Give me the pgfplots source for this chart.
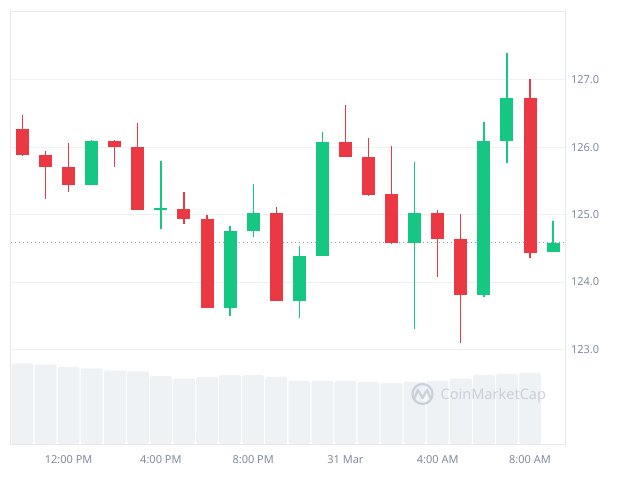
\documentclass[border=0pt]{standalone}
\usepackage{fontspec}
\setmainfont{Noto Sans}
\usepackage{pgfplots}
\usepackage{pgfplotstable}
\pgfplotsset{compat=1.18}

\definecolor{cmcred}{HTML}{EA3943}
\definecolor{cmcgreen}{HTML}{16C784}
\definecolor{cmcgray}{HTML}{808A9D}
\definecolor{volbar}{HTML}{EFF2F5}
\definecolor{gridc}{HTML}{EFF2F5}
\definecolor{framec}{HTML}{E6E8EB}
\definecolor{wmark}{HTML}{CAD0DA}

% hourly candles, index 0 = 10:00 AM
\pgfplotstableread{
x  o      h       l       c
0  126.27 126.47  125.87  125.89
1  125.89 125.945 125.23  125.70
2  125.71 126.06  125.34  125.44
4  126.09 126.11  125.71  126.00
5  126.00 126.36  125.07  125.07
7  125.08 125.33  124.86  124.93
8  124.94 125.00  123.61  123.61
11 125.02 125.11  123.71  123.71
14 126.08 126.63  125.86  125.86
15 125.86 126.14  125.28  125.29
16 125.30 126.02  124.56  124.58
18 125.03 125.06  124.07  124.64
19 124.64 125.01  123.09  123.80
22 126.73 127.01  124.35  124.43
}\redcandles

\pgfplotstableread{
x  o      h       l       c
3  125.44 126.11  125.44  126.09
6  125.07 125.80  124.79  125.09
9  123.61 124.83  123.49  124.76
10 124.76 125.45  124.67  125.02
12 123.71 124.53  123.46  124.39
13 124.39 126.23  124.38  126.08
17 124.58 125.78  123.30  125.03
20 123.80 126.37  123.77  126.09
21 126.09 127.40  125.77  126.73
23 124.44 124.91  124.44  124.58
}\greencandles

\pgfplotstableread{
x  v
0  80.7
1  79.7
2  77.0
3  75.7
4  73.7
5  72.7
6  68.0
7  65.7
8  67.0
9  69.0
10 69.0
11 67.0
12 63.0
13 63.0
14 63.0
15 62.0
16 61.0
17 62.0
18 63.0
19 65.7
20 69.0
21 70.0
22 71.0
}\volume

\pgfplotsset{
  chartbox/.style={
    at={(10.7pt,35pt)}, anchor=south west,
    scale only axis, width=554.6pt, height=432.3pt,
    xmin=-0.511, xmax=23.53,
  },
  wick/.style={draw=none, mark=none, forget plot,
    error bars/.cd, y dir=minus, y explicit, error mark=none,
    error bar style={draw=#1, line width=1.3pt}},
  body/.style={draw=none, mark=none, forget plot,
    error bars/.cd, y dir=minus, y explicit, error mark=none,
    error bar style={draw=#1, line width=13pt}},
}

\begin{document}
\begin{tikzpicture}
\useasboundingbox (0pt,0pt) rectangle (622pt,479pt);

% volume
\begin{axis}[chartbox, ymin=0, ymax=432.3, axis lines=none]
\addplot[ybar, bar width=22pt, fill=volbar, draw=none, rounded corners=1.5pt] table[x=x, y=v] \volume;
\end{axis}

% watermark
\draw[wmark, line width=2.2pt] (422.5pt,85pt) circle (10pt);
\draw[wmark, line width=2.2pt, line join=round, line cap=round]
  (414pt,80pt) -- (418pt,89pt) -- (422.5pt,81pt) -- (427pt,89pt) -- (431pt,80pt);
\node[anchor=west, inner sep=0pt, text=wmark, font=\fontsize{14.5}{16}\selectfont] at (440.5pt,83pt) {CoinMarketCap};

% price
\begin{axis}[chartbox,
  ymin=121.595, ymax=128.01,
  axis line style={draw=framec, line width=0.8pt},
  ytick={123,124,125,126,127},
  yticklabel pos=right,
  ymajorgrids, grid style={draw=gridc, line width=0.8pt},
  major tick length=0pt,
  xtick={2,6,10,14,18,22},
  xticklabels={12:00 PM,4:00 PM,8:00 PM,31 Mar,4:00 AM,8:00 AM},
  tick label style={font=\fontsize{11}{13}\selectfont, text=cmcgray},
  yticklabel style={anchor=west, inner sep=0pt, xshift=5.5pt,
    /pgf/number format/.cd, fixed, fixed zerofill, precision=1},
  xticklabel style={anchor=north, inner sep=0pt, yshift=-11.5pt},
  /pgf/number format/assume math mode=true,
]
\addplot[cmcgray!80, line width=1.2pt, dash pattern=on 1.2pt off 2.8pt, forget plot]
  coordinates {(-0.511,124.58) (23.53,124.58)};

\addplot[wick=cmcred] table[x=x, y=h, y error minus expr=\thisrow{h}-\thisrow{l}] \redcandles;
\addplot[body=cmcred] table[x=x, y=o, y error minus expr=\thisrow{o}-\thisrow{c}] \redcandles;
\addplot[wick=cmcgreen] table[x=x, y=h, y error minus expr=\thisrow{h}-\thisrow{l}] \greencandles;
\addplot[body=cmcgreen] table[x=x, y=c, y error minus expr=\thisrow{c}-\thisrow{o}] \greencandles;
\end{axis}
\end{tikzpicture}
\end{document}
